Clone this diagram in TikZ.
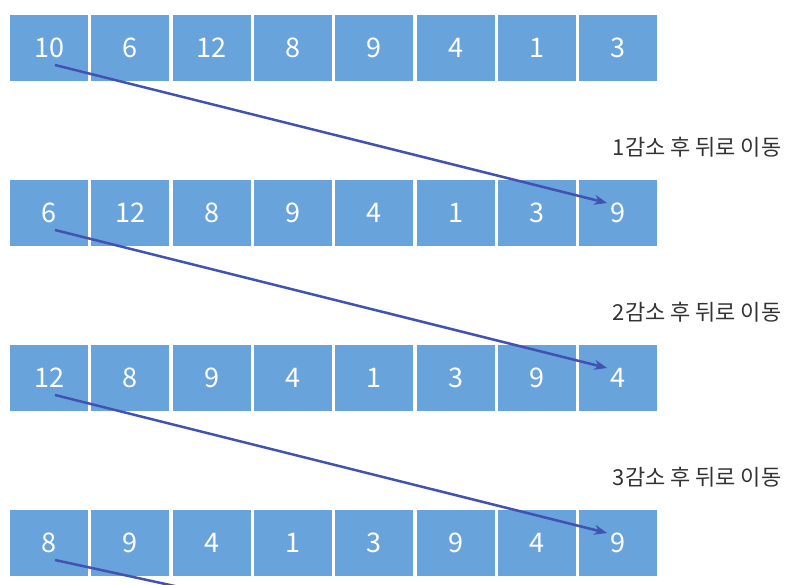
\documentclass[tikz,border=0pt]{standalone}
\usepackage{fontspec}
\setmainfont{Noto Sans CJK KR}
\usetikzlibrary{arrows.meta,calc}
\definecolor{cellblue}{RGB}{104,164,219}
\definecolor{arrowblue}{RGB}{66,82,178}
\definecolor{labelgray}{RGB}{51,51,51}
\begin{document}
\begin{tikzpicture}
    [
    x=1pt,y=1pt,
    cell/.style={rectangle,fill=cellblue,inner sep=0pt,minimum width=78pt,minimum height=66pt,text=white,font=\fontsize{27}{27}\selectfont},
    note/.style={anchor=east,text=labelgray,font=\fontsize{22}{22}\selectfont},
    move/.style={arrowblue,line width=2.5pt,-{Stealth[length=13pt,width=10pt]}}
    ]
    \useasboundingbox (0,0) rectangle (795,585);
    \clip (0,0) rectangle (795,585);
    % rows of values
    \foreach \v [count=\i] in {10,6,12,8,9,4,1,3}
      \node (a\i) at ({49+81.3*(\i-1)},537) [cell] {\v};
    \foreach \v [count=\i] in {6,12,8,9,4,1,3,9}
      \node (b\i) at ({49+81.3*(\i-1)},372) [cell] {\v};
    \foreach \v [count=\i] in {12,8,9,4,1,3,9,4}
      \node (c\i) at ({49+81.3*(\i-1)},207) [cell] {\v};
    \foreach \v [count=\i] in {8,9,4,1,3,9,4,9}
      \node (d\i) at ({49+81.3*(\i-1)},42) [cell] {\v};
    % notes
    \node (n1) at (785,438) [note] {1감소 후 뒤로 이동};
    \node (n2) at (785,273) [note] {2감소 후 뒤로 이동};
    \node (n3) at (785,108) [note] {3감소 후 뒤로 이동};
    % moves
    \coordinate (out) at ($(d1.center)+(558,-137)$);
    \draw [move] ($(a1.center)+(6,-17)$) to ($(b8.center)+(-11,10)$);
    \draw [move] ($(b1.center)+(6,-17)$) to ($(c8.center)+(-11,10)$);
    \draw [move] ($(c1.center)+(6,-17)$) to ($(d8.center)+(-11,10)$);
    \draw [move] ($(d1.center)+(6,-17)$) to (out);
  \end{tikzpicture}
\end{document}
